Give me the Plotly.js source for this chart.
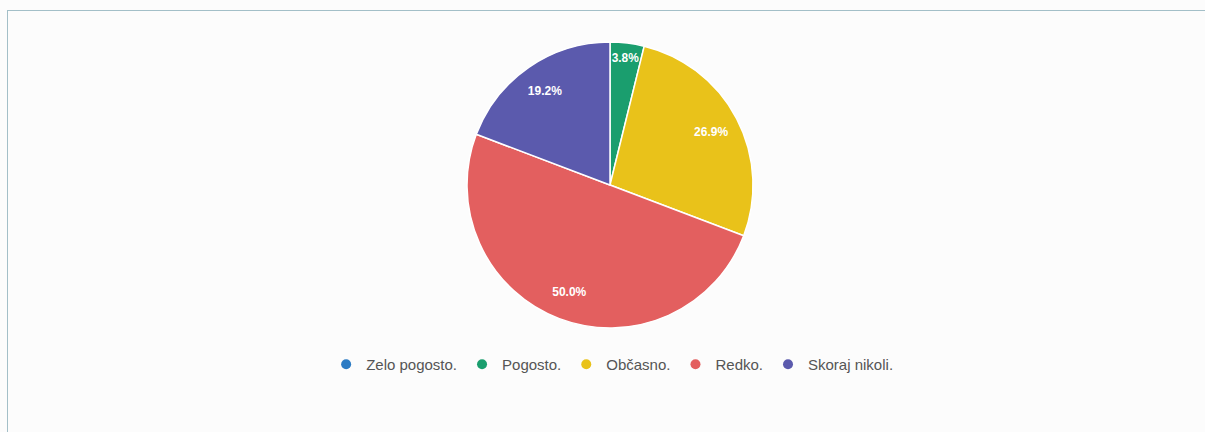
<!DOCTYPE html>
<html>
<head>
<meta charset="utf-8">
<script src="https://cdn.plot.ly/plotly-3.0.1.min.js"></script>
<style>
  html, body { margin: 0; padding: 0; background: #fcfcfc; }
  #frame { position: absolute; left: 7px; top: 10px; width: 1198px; height: 422px;
           border-top: 1px solid #a3bfc8; border-left: 1px solid #a3bfc8; pointer-events: none; }
  #chart { position: absolute; left: 0; top: 0; width: 1205px; height: 432px; }
</style>
</head>
<body>
<div id="chart"></div>
<div id="frame"></div>
<script>
const categories = ["Zelo pogosto.", "Pogosto.", "Občasno.", "Redko.", "Skoraj nikoli."];
const counts = [0, 1, 7, 13, 5];
const colors = ["#2b7bc4", "#1a9e6e", "#e9c21a", "#e35f5f", "#5b5aad"];

const pieDomain = { x: [15 / 1205, 1], y: [0, 1] };

const pie = {
  type: "pie",
  labels: categories,
  values: counts,
  sort: false,
  direction: "clockwise",
  rotation: 0,
  marker: { colors: colors, line: { color: "#ffffff", width: 1.5 } },
  textinfo: "none",
  hoverinfo: "label+percent",
  showlegend: false,
  domain: pieDomain
};

// transparent ring carrying the percentage labels further out from the centre
const labelRing = {
  type: "pie",
  labels: categories,
  values: counts,
  sort: false,
  direction: "clockwise",
  rotation: 0,
  hole: 0.6,
  marker: { colors: categories.map(() => "rgba(0,0,0,0)"), line: { width: 0 } },
  texttemplate: "<b>%{percent:.1%}</b>",
  textposition: "inside",
  insidetextorientation: "horizontal",
  textfont: { color: "#ffffff", size: 12, family: "Arial, Liberation Sans, sans-serif" },
  hoverinfo: "skip",
  showlegend: false,
  domain: pieDomain
};

const legendTraces = categories.map((c, i) => ({
  type: "scatter",
  mode: "markers",
  x: [null], y: [null],
  name: c,
  marker: { color: colors[i], size: 10, symbol: "circle" },
  showlegend: true,
  hoverinfo: "skip"
}));

const layout = {
  width: 1205,
  height: 432,
  margin: { l: 0, r: 0, t: 42, b: 104 },
  paper_bgcolor: "rgba(0,0,0,0)",
  plot_bgcolor: "rgba(0,0,0,0)",
  xaxis: { visible: false },
  yaxis: { visible: false },
  showlegend: true,
  legend: {
    orientation: "h",
    x: 0.508, xanchor: "center",
    y: -0.07, yanchor: "top",
    itemwidth: 30,
    font: { family: "Arial, Liberation Sans, sans-serif", size: 15, color: "#555555" },
    bgcolor: "rgba(0,0,0,0)"
  },
  font: { family: "Arial, Liberation Sans, sans-serif" }
};

Plotly.newPlot("chart", [pie, labelRing, ...legendTraces], layout, { displayModeBar: false, staticPlot: true });
</script>
</body>
</html>
